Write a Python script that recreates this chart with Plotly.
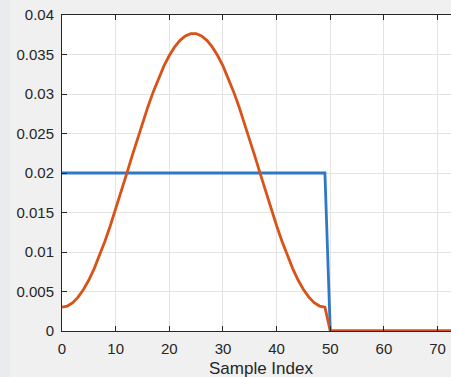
import plotly.graph_objects as go

# Sample indices
sample_index = list(range(0, 81))

# Rectangular window (blue)
rect_window = [0.02] * 50 + [0.0] * 31

# Hamming-shaped window (orange)
hamming_half = [0.003014, 0.003157, 0.003581, 0.004281, 0.005245, 0.006456, 0.007896,
                0.009540, 0.011362, 0.013331, 0.015415, 0.017580, 0.019791, 0.022011,
                0.024203, 0.026333, 0.028364, 0.030266, 0.032007, 0.033559, 0.034873,
                0.035962, 0.036796, 0.037359, 0.037644]
hamming_window = hamming_half + hamming_half[::-1] + [0.0] * 31

x_ticks = [0, 10, 20, 30, 40, 50, 60, 70]
y_ticks = [0, 0.005, 0.01, 0.015, 0.02, 0.025, 0.03, 0.035, 0.04]
y_labels = ["0", "0.005", "0.01", "0.015", "0.02", "0.025", "0.03", "0.035", "0.04"]

fig = go.Figure()
fig.add_trace(go.Scatter(x=sample_index, y=rect_window, mode="lines",
                         line=dict(color="#2E78C8", width=2.8), showlegend=False))
fig.add_trace(go.Scatter(x=sample_index, y=hamming_window, mode="lines",
                         line=dict(color="#D95319", width=2.8), showlegend=False))

font_col = "#262626"
fig.update_layout(
    width=451, height=377,
    margin=dict(l=62, r=0, t=15, b=46, autoexpand=False),
    paper_bgcolor="#F0F0F0",
    plot_bgcolor="#FFFFFF",
    font=dict(family="Liberation Sans, Arial, sans-serif", size=15, color=font_col),
    xaxis=dict(range=[0, 72.5], tickvals=x_ticks, showgrid=True, gridcolor="#E3E3E3",
               gridwidth=1, zeroline=False, showline=True, linecolor=font_col,
               linewidth=1, mirror="ticks", ticks="inside", ticklen=5, tickcolor=font_col,
               ticklabelstandoff=4, automargin=False),
    yaxis=dict(range=[0, 0.04], tickvals=y_ticks, ticktext=y_labels, showgrid=True,
               gridcolor="#E3E3E3", gridwidth=1, zeroline=False, showline=True,
               linecolor=font_col, linewidth=1, ticks="inside", ticklen=5,
               tickcolor=font_col, ticklabelstandoff=4, automargin=False),
    annotations=[dict(text="Sample Index", xref="paper", yref="paper",
                      x=(261 - 62) / 389, y=-(368 - 331) / 316,
                      xanchor="center", yanchor="middle", showarrow=False,
                      font=dict(size=17, color=font_col))],
    shapes=[dict(type="rect", xref="paper", yref="paper",
                 x0=-62 / 389, x1=-52 / 389, y0=-46 / 316, y1=1 + 15 / 316,
                 fillcolor="#E9EBEF", line=dict(width=0), layer="below")],
)

fig.write_html("out.html", config={"displayModeBar": False},
               post_script="document.body.style.margin='0';")
